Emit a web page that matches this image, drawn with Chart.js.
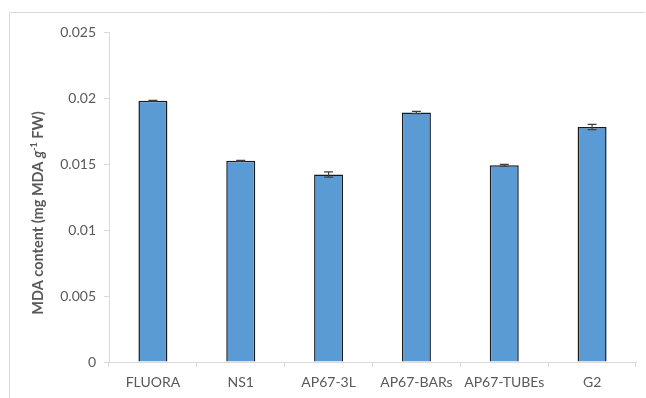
<!DOCTYPE html>
<html>
<head>
<meta charset="utf-8">
<script src="https://cdn.jsdelivr.net/npm/chart.js@4/dist/chart.umd.min.js"></script>
<style>
  html, body { margin: 0; padding: 0; background: #ffffff; }
  #wrap { width: 646px; height: 398px; position: relative; }
</style>
</head>
<body>
<div id="wrap"><canvas id="chart" width="646" height="398"></canvas></div>
<script>
// MDA content per line (mg MDA g-1 FW) with standard errors
const categories = ['FLUORA', 'NS1', 'AP67-3L', 'AP67-BARs', 'AP67-TUBEs', 'G2'];
const mdaValues = [0.0198, 0.01525, 0.0142, 0.0189, 0.0149, 0.0178];
const mdaErrors = [0.00003, 0.00003, 0.0002, 0.00008, 0.00007, 0.0002];
const yTicks = [0, 0.005, 0.01, 0.015, 0.02, 0.025];
const yTickLabels = ['0', '0.005', '0.01', '0.015', '0.02', '0.025'];

const FONT = 'Lato, "Open Sans", sans-serif';
const AXIS_GRAY = '#d9d9d9';
const TEXT_GRAY = '#595959';

// Thin outer frame (top and left edges)
const framePlugin = {
  id: 'frame',
  beforeDraw(chart) {
    const ctx = chart.ctx;
    ctx.save();
    ctx.fillStyle = '#ffffff';
    ctx.fillRect(0, 0, chart.width, chart.height);
    ctx.strokeStyle = AXIS_GRAY;
    ctx.lineWidth = 1;
    ctx.beginPath();
    ctx.moveTo(9.5, chart.height);
    ctx.lineTo(9.5, 12.5);
    ctx.lineTo(chart.width - 1, 12.5);
    ctx.stroke();
    ctx.restore();
  }
};

// Error bars drawn on top of each bar through the y scale
const errorBarPlugin = {
  id: 'errorBars',
  afterDatasetsDraw(chart) {
    const ctx = chart.ctx;
    const y = chart.scales.y;
    const meta = chart.getDatasetMeta(0);
    ctx.save();
    ctx.strokeStyle = '#404040';
    ctx.lineWidth = 1.2;
    meta.data.forEach((bar, i) => {
      const v = mdaValues[i], e = mdaErrors[i];
      const top = y.getPixelForValue(v + e);
      const bot = y.getPixelForValue(v - e);
      const cx = bar.x, half = 4.5;
      ctx.beginPath();
      ctx.moveTo(cx, top); ctx.lineTo(cx, bot);
      ctx.moveTo(cx - half, top); ctx.lineTo(cx + half, top);
      ctx.moveTo(cx - half, bot); ctx.lineTo(cx + half, bot);
      ctx.stroke();
    });
    ctx.restore();
  }
};

// Y axis title with superscript unit exponent
const yTitlePlugin = {
  id: 'yTitle',
  afterDraw(chart) {
    const ctx = chart.ctx;
    const parts = [
      { t: 'MDA content (mg MDA ', size: 14.5, rise: 0 },
      { t: 'g', size: 14.5, rise: 0, italic: true },
      { t: '-1', size: 9, rise: 6 },
      { t: ' FW)', size: 14.5, rise: 0 }
    ];
    ctx.save();
    let total = 0;
    parts.forEach(p => {
      ctx.font = (p.italic ? 'italic ' : '') + 'bold ' + p.size + 'px ' + FONT;
      p.w = ctx.measureText(p.t).width;
      total += p.w;
    });
    ctx.translate(43, 213);
    ctx.rotate(-Math.PI / 2);
    ctx.fillStyle = TEXT_GRAY;
    ctx.textBaseline = 'alphabetic';
    let x = -total / 2;
    parts.forEach(p => {
      ctx.font = (p.italic ? 'italic ' : '') + 'bold ' + p.size + 'px ' + FONT;
      ctx.fillText(p.t, x, 0 - p.rise);
      x += p.w;
    });
    ctx.restore();
  }
};

new Chart(document.getElementById('chart'), {
  type: 'bar',
  data: {
    labels: categories,
    datasets: [{
      data: mdaValues,
      backgroundColor: '#5b9bd5',
      borderColor: '#1a1a1a',
      borderWidth: 1.5,
      borderSkipped: 'bottom',
      barPercentage: 0.33,
      categoryPercentage: 1
    }]
  },
  options: {
    responsive: false,
    animation: false,
    devicePixelRatio: 1,
    layout: { padding: { left: 0, right: 10, top: 32, bottom: 0 } },
    plugins: { legend: { display: false }, tooltip: { enabled: false } },
    scales: {
      x: {
        offset: true,
        afterFit(s) { s.height = 36; },
        grid: {
          offset: true,
          drawOnChartArea: false,
          drawTicks: true,
          tickLength: 5,
          color: AXIS_GRAY
        },
        border: { color: AXIS_GRAY, width: 1 },
        ticks: { color: TEXT_GRAY, font: { family: FONT, size: 14 }, padding: 7, maxRotation: 0, autoSkip: false }
      },
      y: {
        min: 0,
        max: 0.025,
        afterFit(s) { s.width = 109; },
        afterBuildTicks(s) { s.ticks = yTicks.map(v => ({ value: v })); },
        grid: {
          drawOnChartArea: false,
          drawTicks: true,
          tickLength: 5,
          color: AXIS_GRAY
        },
        border: { color: AXIS_GRAY, width: 1 },
        ticks: {
          color: TEXT_GRAY,
          font: { family: FONT, size: 14 },
          padding: 8,
          callback(value) {
            const i = yTicks.indexOf(value);
            return i >= 0 ? yTickLabels[i] : '';
          }
        }
      }
    }
  },
  plugins: [framePlugin, errorBarPlugin, yTitlePlugin]
});
</script>
</body>
</html>
